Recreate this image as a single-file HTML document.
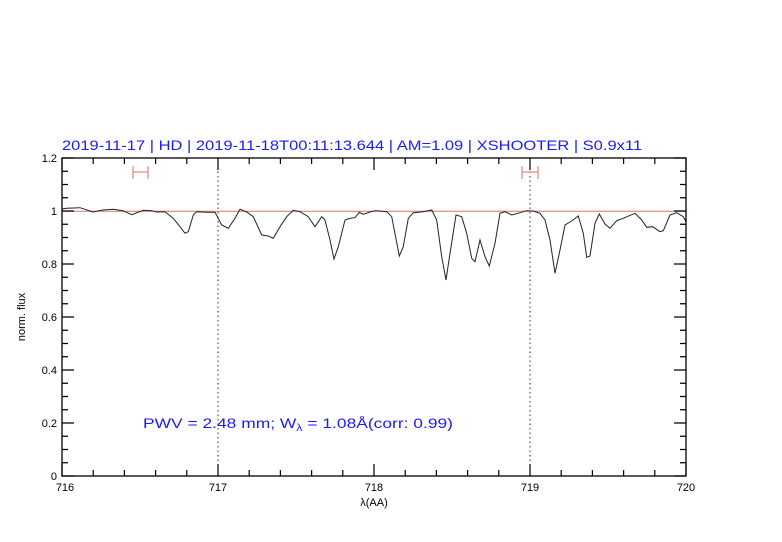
<!DOCTYPE html>
<html><head><meta charset="utf-8"><style>html,body{margin:0;padding:0;background:#fff}svg{display:block}</style></head>
<body>
<svg width="782" height="542" xmlns="http://www.w3.org/2000/svg" font-family="Liberation Sans, sans-serif">
<rect width="782" height="542" fill="#fff"/>
<text x="62" y="150" font-size="14" fill="#1a1aff" textLength="580" lengthAdjust="spacingAndGlyphs">2019-11-17 | HD | 2019-11-18T00:11:13.644 | AM=1.09 | XSHOOTER | S0.9x11</text>
<!-- grid dotted -->
<line x1="218" y1="158" x2="218" y2="476" stroke="#333" stroke-dasharray="1.5,3" stroke-width="1"/>
<line x1="530" y1="158" x2="530" y2="476" stroke="#333" stroke-dasharray="1.5,3" stroke-width="1"/>
<line x1="62" y1="211.3" x2="686" y2="211.3" stroke="#e07070" stroke-width="1"/>
<!-- error bars -->
<g stroke="#f08080" stroke-width="1.2">
<line x1="133" y1="172" x2="148" y2="172"/><line x1="133" y1="166" x2="133" y2="179"/><line x1="148" y1="166" x2="148" y2="179"/>
<line x1="522" y1="172" x2="538" y2="172"/><line x1="522" y1="166" x2="522" y2="179"/><line x1="538" y1="166" x2="538" y2="179"/>
</g>
<polyline fill="none" stroke="#222" stroke-width="1" points="62,209 66.7,208.3 80,207.7 93,212 103,210 113,209.3 123,210.7 131.7,214.7 143.3,210.3 151.7,210.7 156.7,212 165,211.7 173.3,218.3 180,226.7 185,233.3 188.3,231.7 193.3,215 196.7,211.7 206.7,212.3 215,212.3 221.7,225 228.3,228.3 235,218.3 240,209.3 246.7,212 253.3,216.7 261.7,235 268.3,236 273.3,238.3 280,226.7 286.7,216.7 293.3,210.3 300,211.7 308.3,216.7 315,226.7 321.7,216.7 325,220 330,240 334,259 338.3,246.7 345,220 350,218.3 355,217.7 359.3,212.3 363.3,214.3 370,212 375,210.7 380,211 386.7,211.7 391.7,216.7 399.3,256 403.3,246.7 408.3,218.3 413.3,212.7 423.3,211.7 431.7,210 436.7,220 441.7,256.7 446,280 450,253.3 456,215 461.7,216.7 466.7,233.3 471.7,258.3 475,261.7 480,240 485,256.7 489.3,266 495,243.3 500,213.3 505,211.7 511.7,215 520,212.7 526.7,210.7 533.3,211 540,213.3 545,220 550,240 555,273.3 560,250 565,225 571.7,221 578.3,216 583.3,233.3 586.7,257.3 590,256 595,223.3 599.3,214 605,224 610,228.3 616.7,220.7 623.3,218.3 635,213.3 641.7,220 646.7,227.3 652.7,226.7 660,231.7 663.3,230.7 670,215 676.7,212.7 683.3,216.7 686,221.7"/>
<rect x="62" y="158" width="624" height="318" fill="none" stroke="#000" stroke-width="1.3"/>
<g stroke="#000" stroke-width="1.2" id="ticks">
<!-- x ticks -->
<path d="M62,476v-12M93.2,476v-6M124.4,476v-6M155.6,476v-6M186.8,476v-6M218,476v-12M249.2,476v-6M280.4,476v-6M311.6,476v-6M342.8,476v-6M374,476v-12M405.2,476v-6M436.4,476v-6M467.6,476v-6M498.8,476v-6M530,476v-12M561.2,476v-6M592.4,476v-6M623.6,476v-6M654.8,476v-6M686,476v-12"/>
<path d="M62,158v12M93.2,158v6M124.4,158v6M155.6,158v6M186.8,158v6M218,158v12M249.2,158v6M280.4,158v6M311.6,158v6M342.8,158v6M374,158v12M405.2,158v6M436.4,158v6M467.6,158v6M498.8,158v6M530,158v12M561.2,158v6M592.4,158v6M623.6,158v6M654.8,158v6M686,158v12"/>
<!-- y ticks -->
<path d="M62,476h12M62,462.75h6M62,449.5h6M62,436.25h6M62,423h12M62,409.75h6M62,396.5h6M62,383.25h6M62,370h12M62,356.75h6M62,343.5h6M62,330.25h6M62,317h12M62,303.75h6M62,290.5h6M62,277.25h6M62,264h12M62,250.75h6M62,237.5h6M62,224.25h6M62,211h12M62,197.75h6M62,184.5h6M62,171.25h6M62,158h12"/>
<path d="M686,476h-12M686,462.75h-6M686,449.5h-6M686,436.25h-6M686,423h-12M686,409.75h-6M686,396.5h-6M686,383.25h-6M686,370h-12M686,356.75h-6M686,343.5h-6M686,330.25h-6M686,317h-12M686,303.75h-6M686,290.5h-6M686,277.25h-6M686,264h-12M686,250.75h-6M686,237.5h-6M686,224.25h-6M686,211h-12M686,197.75h-6M686,184.5h-6M686,171.25h-6M686,158h-12"/>
</g>
<g font-size="11" fill="#000" text-anchor="end">
<text x="57" y="480">0</text><text x="57" y="427">0.2</text><text x="57" y="374">0.4</text><text x="57" y="321">0.6</text><text x="57" y="268">0.8</text><text x="57" y="215">1</text><text x="57" y="162">1.2</text>
</g>
<g font-size="11" fill="#000" text-anchor="middle">
<text x="65" y="491">716</text><text x="218" y="491">717</text><text x="374" y="491">718</text><text x="530" y="491">719</text><text x="686" y="491">720</text>
<text x="374" y="506">λ(AA)</text>
</g>
<text transform="translate(25,317) rotate(-90)" font-size="11" text-anchor="middle" fill="#000">norm. flux</text>
<text x="143" y="428" font-size="14" fill="#1a1aff" textLength="310" lengthAdjust="spacingAndGlyphs">PWV = 2.48 mm; W<tspan font-size="10" dy="3">λ</tspan><tspan dy="-3"> = 1.08Å(corr: 0.99)</tspan></text>
</svg>
</body></html>
